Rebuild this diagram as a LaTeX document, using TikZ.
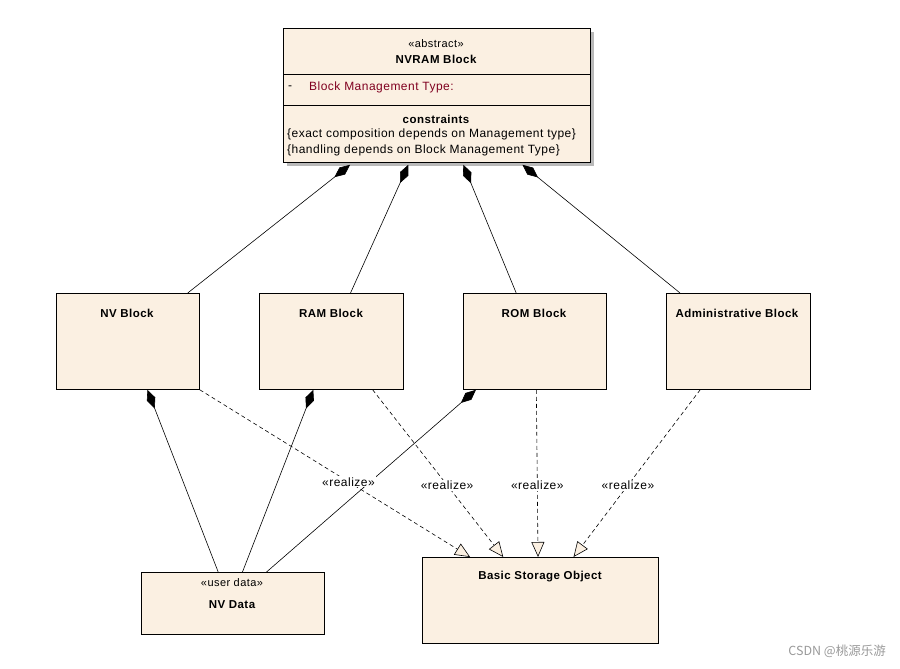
\documentclass[tikz,border=0pt]{standalone}
\usepackage{fontspec}
\setmainfont{Liberation Sans}
\newfontfamily\uml[LetterSpace=4]{Liberation Sans}
\newfontfamily\cjk{Noto Sans CJK SC}
\usetikzlibrary{arrows.meta,calc}
\definecolor{cream}{RGB}{251,240,226}
\definecolor{attrred}{RGB}{128,0,32}
\begin{document}
\begin{tikzpicture}[x=1pt,y=-1pt,
  box/.style={draw=black, fill=cream, line width=0.8pt, inner sep=0pt, anchor=north west},
  ttl/.style={font=\uml\fontsize{11.5}{13}\selectfont\bfseries, inner sep=0pt},
  txt/.style={font=\uml\fontsize{12}{13}\selectfont, inner sep=0pt},
  ster/.style={font=\uml\fontsize{11}{12}\selectfont, inner sep=0pt},
  comp/.style={line width=0.6pt, {Diamond[length=20pt,width=9pt]}-},
  realz/.style={line width=0.6pt, dash pattern=on 4pt off 3pt, -{Triangle[length=15pt,width=13pt,fill=cream,line width=0.6pt]}},
  rlab/.style={font=\uml\fontsize{12}{13}\selectfont, fill=white, inner sep=1pt}
]
\useasboundingbox (0,0) rectangle (900,669);

% NVRAM block with shadow
\fill[gray!55] (287,32) rectangle (594,166);
\node[box, minimum width=307pt, minimum height=134pt] (nvram) at (283,28) {};
\draw[line width=0.8pt] (283,74) -- (590,74);
\draw[line width=0.8pt] (283,105) -- (590,105);
\node[ster] (abs) at (436,44) {«abstract»};
\node[ttl] (nvramt) at (436,59) {NVRAM Block};
\node[txt, anchor=west] (dash) at (288,88) {-};
\node[txt, anchor=west, text=attrred] (attr) at (309,87) {Block Management Type:};
\node[ttl] (cons) at (436,119) {constraints};
\node[txt, anchor=west] (c1) at (287,134) {\{exact composition depends on Management type\}};
\node[txt, anchor=west] (c2) at (287,150) {\{handling depends on Block Management Type\}};

% middle row
\node[box, minimum width=143pt, minimum height=96pt] (nv) at (56,293) {};
\node[ttl] (nvt) at (127,313) {NV Block};
\node[box, minimum width=144pt, minimum height=96pt] (ram) at (259,293) {};
\node[ttl] (ramt) at (331,313) {RAM Block};
\node[box, minimum width=143pt, minimum height=96pt] (rom) at (463,293) {};
\node[ttl] (romt) at (534,313) {ROM Block};
\node[box, minimum width=144pt, minimum height=96pt] (adm) at (666,293) {};
\node[ttl] (admt) at (737,313) {Administrative Block};

% bottom row
\node[box, minimum width=183pt, minimum height=62pt] (nvd) at (141,572) {};
\node[ster] (ud) at (232,583) {«user data»};
\node[ttl] (nvdt) at (232,605) {NV Data};
\node[box, minimum width=236pt, minimum height=86pt] (bso) at (422,557) {};
\node[ttl] (bsot) at (540,577) {Basic Storage Object};

% compositions from NVRAM block
\draw[comp] ($(nvram.south west)!0.218!(nvram.south east)+(0,2)$) -- ($(nv.north west)!0.916!(nv.north east)$);
\draw[comp] ($(nvram.south west)!0.407!(nvram.south east)+(0,2)$) -- ($(ram.north west)!0.632!(ram.north east)$);
\draw[comp] ($(nvram.south west)!0.586!(nvram.south east)+(0,2)$) -- ($(rom.north west)!0.37!(rom.north east)$);
\draw[comp] ($(nvram.south west)!0.778!(nvram.south east)+(0,2)$) -- ($(adm.north west)!0.097!(adm.north east)$);

% compositions to NV Data
\draw[comp] ($(nv.south west)!0.636!(nv.south east)$) -- ($(nvd.north west)!0.42!(nvd.north east)$);
\draw[comp] ($(ram.south west)!0.375!(ram.south east)$) -- ($(nvd.north west)!0.552!(nvd.north east)$);
\draw[comp] ($(rom.south west)!0.09!(rom.south east)$) -- ($(nvd.north west)!0.683!(nvd.north east)$);

% realizations
\draw[realz] (nv.south east) -- node[rlab, pos=0.55] {«realize»} ($(bso.north west)!0.203!(bso.north east)$);
\draw[realz] ($(ram.south west)!0.785!(ram.south east)$) -- node[rlab, pos=0.57] {«realize»} ($(bso.north west)!0.343!(bso.north east)$);
\draw[realz] ($(rom.south west)!0.51!(rom.south east)$) -- node[rlab, pos=0.57] {«realize»} ($(bso.north west)!0.49!(bso.north east)$);
\draw[realz] ($(adm.south west)!0.236!(adm.south east)$) -- node[rlab, pos=0.57] {«realize»} ($(bso.north west)!0.64!(bso.north east)$);

% watermark
\node[font=\cjk\fontsize{12.5}{14}\selectfont, text=gray!80, anchor=east, inner sep=0pt] (wm) at (886,651) {CSDN @桃源乐游};
\end{tikzpicture}
\end{document}
